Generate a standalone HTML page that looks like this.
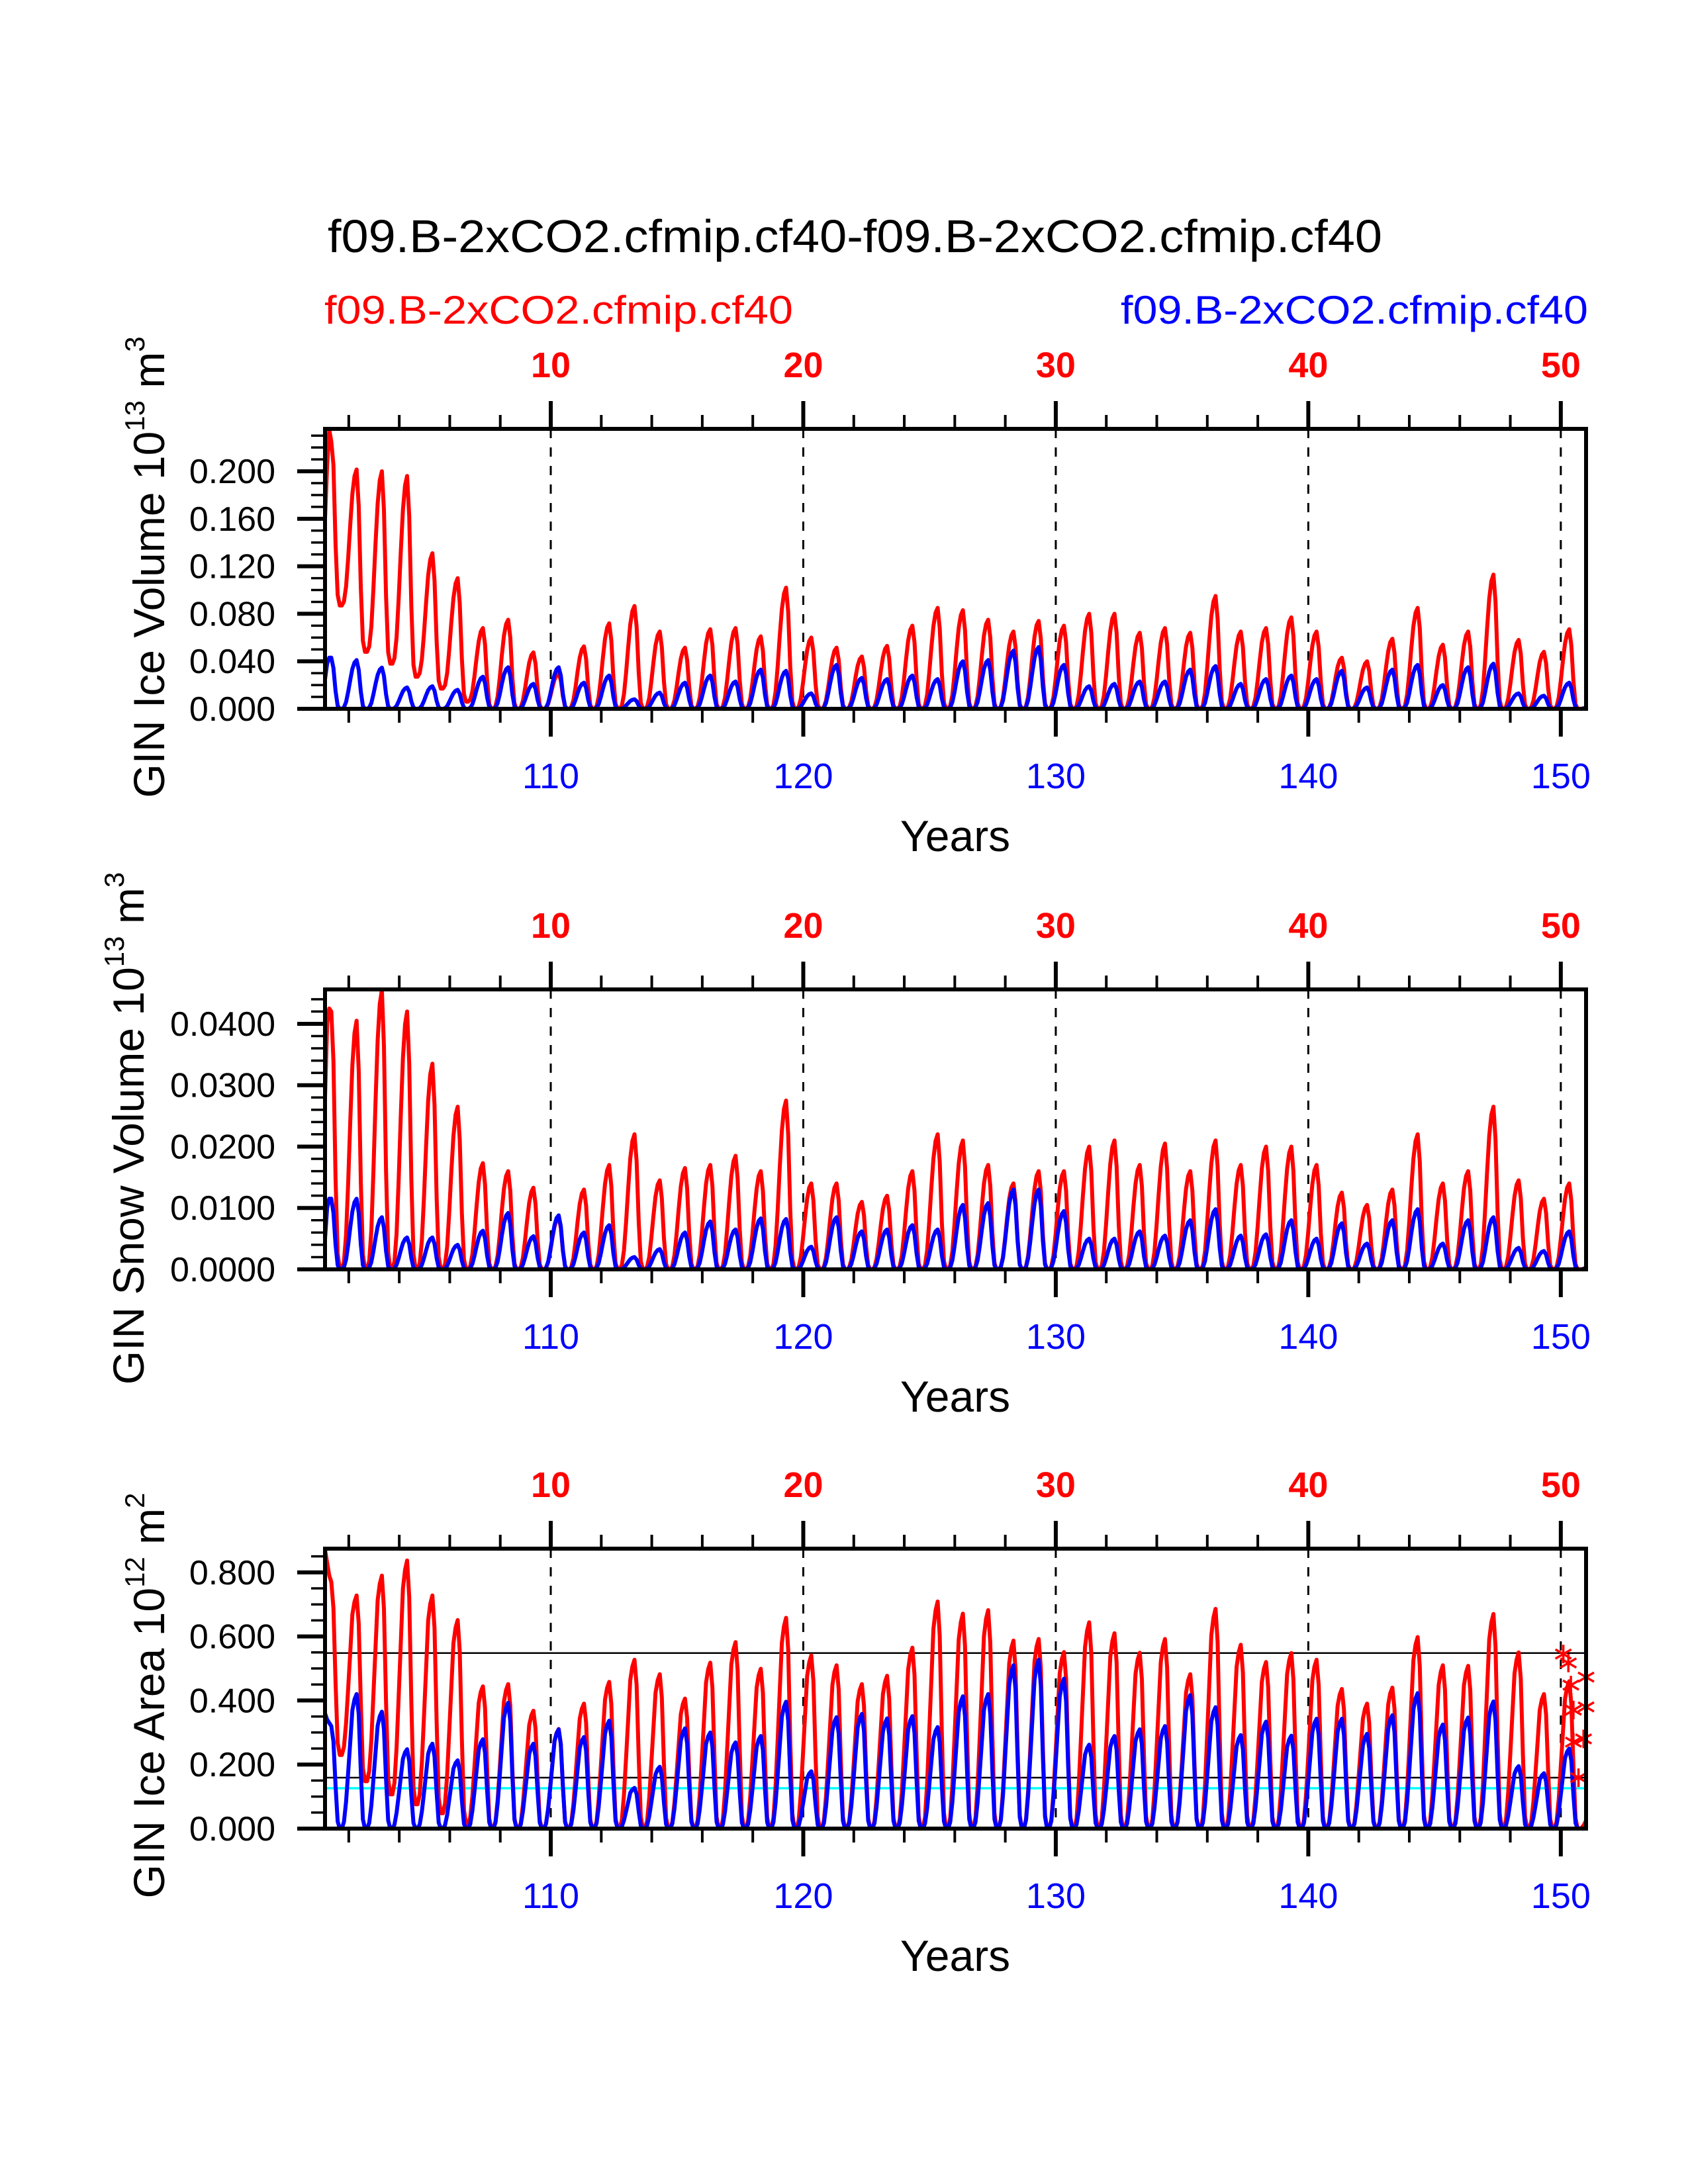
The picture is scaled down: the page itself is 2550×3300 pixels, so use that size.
<!DOCTYPE html>
<html><head><meta charset="utf-8"><style>
html,body{margin:0;padding:0;background:#fff;}
svg{display:block;font-family:"Liberation Sans",Arial,sans-serif;}
</style></head>
<body>
<svg id="chart" width="2550" height="3300" viewBox="0 0 2550 3300" xmlns="http://www.w3.org/2000/svg">
<rect x="0" y="0" width="2550" height="3300" fill="#fff"/>
<text x="495" y="381" font-size="70" textLength="1593" lengthAdjust="spacingAndGlyphs">f09.B-2xCO2.cfmip.cf40-f09.B-2xCO2.cfmip.cf40</text>
<text x="490" y="489" font-size="60" fill="#f00" textLength="708" lengthAdjust="spacingAndGlyphs">f09.B-2xCO2.cfmip.cf40</text>
<text x="1693" y="489" font-size="60" fill="#00f" textLength="706" lengthAdjust="spacingAndGlyphs">f09.B-2xCO2.cfmip.cf40</text>
<g id="panels"></g>
</svg>
<script>
// ---- data (peak value of each annual cycle, years 1..50) ----
const redIceVolume=[0.235,0.2015,0.20,0.196,0.131,0.11,0.068,0.075,0.0475,0.03,0.0526,0.072,0.0866,0.065,0.0515,0.067,0.068,0.061,0.102,0.06,0.0515,0.044,0.053,0.070,0.085,0.083,0.075,0.065,0.074,0.070,0.080,0.080,0.064,0.068,0.064,0.095,0.065,0.068,0.077,0.065,0.043,0.040,0.059,0.085,0.054,0.065,0.113,0.058,0.048,0.067,0.004];
const blueIceVolume=[0.043,0.041,0.0347,0.018,0.019,0.016,0.027,0.035,0.021,0.035,0.022,0.028,0.008,0.0136,0.022,0.028,0.023,0.033,0.032,0.013,0.037,0.026,0.025,0.028,0.025,0.040,0.041,0.049,0.052,0.037,0.019,0.021,0.023,0.023,0.033,0.036,0.021,0.025,0.028,0.025,0.032,0.018,0.033,0.037,0.020,0.035,0.038,0.013,0.011,0.022,0.002];
const redSnowVolume=[0.0425,0.0405,0.0455,0.042,0.0335,0.0265,0.0173,0.016,0.0133,0.0085,0.013,0.017,0.022,0.0145,0.0165,0.017,0.0185,0.016,0.0275,0.014,0.014,0.011,0.012,0.016,0.022,0.021,0.017,0.014,0.016,0.016,0.020,0.021,0.017,0.0205,0.016,0.021,0.017,0.020,0.020,0.017,0.0125,0.0105,0.013,0.022,0.014,0.016,0.0265,0.0145,0.0115,0.014,0.001];
const blueSnowVolume=[0.0115,0.0115,0.0085,0.0052,0.0052,0.0040,0.0063,0.0092,0.0054,0.0088,0.006,0.0072,0.002,0.0033,0.006,0.0078,0.0065,0.0083,0.0082,0.0037,0.0085,0.0062,0.0065,0.0072,0.0065,0.0105,0.0108,0.013,0.013,0.0095,0.005,0.005,0.0062,0.0055,0.008,0.0098,0.0055,0.0057,0.008,0.005,0.0075,0.0042,0.008,0.0098,0.0042,0.008,0.0085,0.0035,0.003,0.0062,0.0005];
const redIceArea=[0.77,0.728,0.79,0.837,0.728,0.651,0.444,0.451,0.368,0.311,0.39,0.458,0.527,0.482,0.406,0.518,0.582,0.499,0.658,0.541,0.51,0.451,0.477,0.565,0.709,0.671,0.682,0.587,0.592,0.551,0.644,0.61,0.549,0.592,0.482,0.686,0.574,0.52,0.548,0.527,0.436,0.39,0.44,0.598,0.51,0.508,0.67,0.55,0.42,0.46,0.06];
const blueIceArea=[0.32,0.42,0.365,0.248,0.265,0.213,0.279,0.393,0.265,0.31,0.286,0.337,0.127,0.193,0.313,0.3,0.269,0.289,0.396,0.179,0.348,0.358,0.344,0.351,0.317,0.413,0.42,0.51,0.527,0.468,0.262,0.289,0.31,0.32,0.417,0.379,0.292,0.334,0.29,0.343,0.343,0.296,0.354,0.423,0.325,0.347,0.397,0.195,0.173,0.25,0.0];
// troughs preceding cycle c (missing = 0)
const redIceVolumeTroughs=[0.087,0.087,0.048,0.038,0.027,0.017,0.006];
const redIceAreaTroughs=[0.23,0.23,0.148,0.107,0.076,0.048,0.014];
// first months of the record
const redIceVolumeStart=[0.16,0.205,0.235,0.225];
const blueIceVolumeStart=[0.025,0.038,0.043,0.043];
const redSnowStart=[0.028,0.040,0.0425,0.042];
const blueSnowStart=[0.005,0.010,0.0115,0.0115];
const redAreaStart=[0.87,0.83,0.79,0.77];
const blueAreaStart=[0.36,0.34,0.33,0.32];
// monthly seasonal shape (fraction of annual peak)
const seasonVolume=[0.6,0.82,0.95,1.0,0.8,0.35,0.06,0,0,0.03,0.14,0.35];
const seasonArea=[0.65,0.88,0.96,1.0,0.85,0.42,0.07,0,0,0.05,0.2,0.42];
const topTickLabels=["10","20","30","40","50"];
const bottomTickLabels=["110","120","130","140","150"];
const areaRefLines=[0.548,0.159];
const areaCyanLine=[0.126];
const markerYears=[50.1,50.3,51.0,50.4,50.5,51.0,50.5,50.9,50.7];
const markerValues=[0.545,0.517,0.473,0.448,0.37,0.38,0.27,0.28,0.159];

const NS="http://www.w3.org/2000/svg";
const XMIN=1.06,XMAX=51.0,PX0=491,PX1=2396,NM=600;
function sx(v){return PX0+(v-XMIN)/(XMAX-XMIN)*(PX1-PX0);}
function mk(tag,attrs,parent){const e=document.createElementNS(NS,tag);for(const k in attrs)e.setAttribute(k,attrs[k]);parent.appendChild(e);return e;}
function monthly(peaks,troughs,start,season){
  const out=[];
  for(let i=0;i<NM;i++){
    if(i<start.length){out.push(start[i]);continue;}
    const m=i%12,c=Math.floor((i+5)/12);
    const pk=peaks[Math.min(c,peaks.length-1)];
    let lo;
    if(m>=4&&m<=6) lo=troughs[c+1]||0; else lo=troughs[c]||0;
    out.push(lo+(pk-lo)*season[m]);
  }
  return out;
}
const root=document.getElementById('panels');
const panels=[
 {name:'ice-volume',top:648,bottom:1071,ymax:0.2357,major:0.04,minor:0.01,dec:3,title:['GIN Ice Volume 10','13',' m','3'],tx:248,ty:857,
  series:[[monthly(redIceVolume,redIceVolumeTroughs,redIceVolumeStart,seasonVolume),'#f00','red'],[monthly(blueIceVolume,[],blueIceVolumeStart,seasonVolume),'#00f','blue']]},
 {name:'snow-volume',top:1495,bottom:1918,ymax:0.0456,major:0.01,minor:0.002,dec:4,title:['GIN Snow Volume 10','13',' m','3'],tx:217,ty:1705,
  series:[[monthly(redSnowVolume,[],redSnowStart,seasonVolume),'#f00','red'],[monthly(blueSnowVolume,[],blueSnowStart,seasonVolume),'#00f','blue']]},
 {name:'ice-area',top:2340,bottom:2763,ymax:0.874,major:0.2,minor:0.05,dec:3,title:['GIN Ice Area 10','12',' m','2'],tx:248,ty:2562,
  series:[[monthly(redIceArea,redIceAreaTroughs,redAreaStart,seasonArea),'#f00','red'],[monthly(blueIceArea,[],blueAreaStart,seasonArea),'#00f','blue']]}
];
panels.forEach((p,pi)=>{
  const g=mk('g',{},root);
  
  
  const sy=v=>p.bottom-v/p.ymax*(p.bottom-p.top);
  const off=p.top-648;
  [10,20,30,40,50].forEach(yr=>{
    const l=mk('line',{x1:sx(yr),x2:sx(yr),y1:p.top,y2:p.bottom,stroke:'#000','stroke-width':3,'stroke-dasharray':'14 14'},g);
    
    
  });
  if(pi===2){
    areaRefLines.forEach(v=>{const l=mk('line',{x1:PX0,x2:PX1,y1:sy(v),y2:sy(v),stroke:'#000','stroke-width':2.5},g);
      
      });
    areaCyanLine.forEach(v=>{const l=mk('line',{x1:PX0,x2:PX1,y1:sy(v),y2:sy(v),stroke:'#0ff','stroke-width':3.5},g);
      
      });
  }
  p.series.forEach(s=>{
    const pts=s[0].map((v,i)=>sx(XMIN+i*(XMAX-XMIN)/(NM-1)).toFixed(1)+','+sy(v).toFixed(1)).join(' ');
    const pl=mk('polyline',{points:pts,fill:'none',stroke:s[1],'stroke-width':6,'stroke-linejoin':'round'},g);
    
    
  });
  if(pi===2){
    markerYears.forEach((yr,i)=>{
      const cx=sx(yr),cy=sy(markerValues[i]);
      const mg=mk('g',{stroke:'#f00','stroke-width':3.5},g);
      
      
      [[0,14],[12,7],[12,-7]].forEach(d=>mk('line',{x1:cx-d[0],y1:cy-d[1],x2:cx+d[0],y2:cy+d[1]},mg));
    });
  }
  const fr=mk('rect',{x:PX0,y:p.top,width:PX1-PX0,height:p.bottom-p.top,fill:'none',stroke:'#000','stroke-width':6},g);
  
  
  for(let yr=2;yr<=50;yr+=2){
    const major=yr%10===0,len=major?42:21;
    mk('line',{x1:sx(yr),x2:sx(yr),y1:p.top,y2:p.top-len,stroke:'#000','stroke-width':major?6:4},g);
    mk('line',{x1:sx(yr),x2:sx(yr),y1:p.bottom,y2:p.bottom+len,stroke:'#000','stroke-width':major?6:4},g);
  }
  topTickLabels.forEach((t,i)=>{
    const tx=mk('text',{x:sx(10*(i+1)),y:570+off,'font-size':54,'font-weight':'bold',fill:'#f00','text-anchor':'middle'},g);
    tx.textContent=t;
    
    
  });
  bottomTickLabels.forEach((t,i)=>{
    const tx=mk('text',{x:sx(10*(i+1)),y:1191+off,'font-size':54,fill:'#00f','text-anchor':'middle'},g);
    tx.textContent=t;
    
    
  });
  const xt=mk('text',{x:1443,y:1286+off,'font-size':66,'text-anchor':'middle'},g);
  xt.textContent='Years';
  
  
  const nMinor=Math.floor(p.ymax/p.minor+1e-6);
  for(let k=0;k<=nMinor;k++){
    const v=k*p.minor;
    const isMajor=Math.abs(v/p.major-Math.round(v/p.major))<1e-6;
    mk('line',{x1:PX0,x2:PX0-(isMajor?42:21),y1:sy(v),y2:sy(v),stroke:'#000','stroke-width':isMajor?6:3.5},g);
    if(isMajor){
      const tl=mk('text',{x:416,y:sy(v)+18,'font-size':52,'text-anchor':'end'},g);
      tl.textContent=v.toFixed(p.dec);
      
      
    }
  }
  const yt=mk('text',{transform:'translate('+p.tx+','+p.ty+') rotate(-90)','font-size':66,'text-anchor':'middle'},g);
  
  
  const parts=p.title;
  const t1=mk('tspan',{},yt);t1.textContent=parts[0];
  const t2=mk('tspan',{dy:-30,'font-size':42},yt);t2.textContent=parts[1];
  const t3=mk('tspan',{dy:30},yt);t3.textContent=parts[2];
  const t4=mk('tspan',{dy:-30,'font-size':42},yt);t4.textContent=parts[3];
});
</script>
</body></html>
